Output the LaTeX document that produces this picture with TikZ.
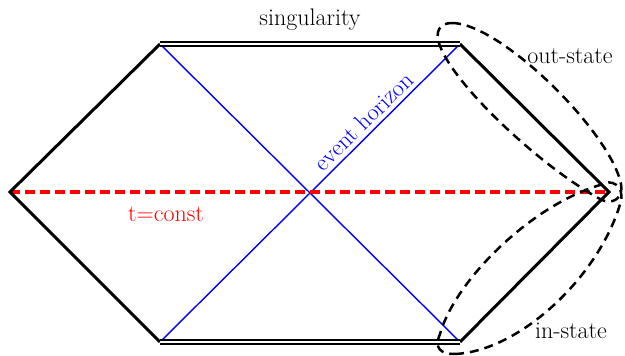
\documentclass[tikz,border=0pt]{standalone}
\tikzset{
  edge/.style={line width=3pt, line join=miter},
  sing/.style={double, double distance=2.5pt, line width=2pt},
  horizon/.style={blue, line width=1.4pt},
  tconst/.style={red, line width=3.5pt, dash pattern=on 10pt off 5pt},
  region/.style={line width=2.5pt, dash pattern=on 9pt off 6pt},
  lbl/.style={font=\fontsize{24}{27}\selectfont, inner sep=0pt}
}
\begin{document}
\begin{tikzpicture}[x=1pt,y=1pt]
\useasboundingbox (0,0) rectangle (625,356);
\coordinate (L) at (10,164);
\coordinate (TL) at (160,312);
\coordinate (TR) at (460,312);
\coordinate (R) at (609,164);
\coordinate (BR) at (460,14);
\coordinate (BL) at (160,14);
\draw[horizon] (TL) -- (BR);
\draw[horizon] (BL) -- node[pos=0.71, sloped, above=4pt, lbl, blue] (eh) {event horizon} (TR);
\draw[tconst] (L) -- (R);
\draw[edge] (TL) -- (L) -- (BL);
\draw[edge] (TR) -- (R) -- (BR);
\draw[sing] (TL) -- (TR);
\draw[sing] (BL) -- (BR);
% out-state region
\draw[region] (452,333) .. controls (500,333) and (610,225) .. (621,172)
  .. controls (624,158) and (612,150) .. (600,157)
  .. controls (540,190) and (455,270) .. (440,310)
  .. controls (434,325) and (440,333) .. (452,333) -- cycle;
% in-state region
\draw[region] (455,2) .. controls (520,5) and (600,80) .. (621,155)
  .. controls (624,170) and (612,178) .. (600,171)
  .. controls (530,150) and (455,75) .. (440,22)
  .. controls (434,8) and (440,2) .. (455,2) -- cycle;
\node[lbl] (s) at (310,336) {singularity};
\node[lbl, red] (t) at (166,142) {t=const};
\node[lbl] (o) at (570,300) {out-state};
\node[lbl] (i) at (571,25) {in-state};
\end{tikzpicture}
\end{document}
